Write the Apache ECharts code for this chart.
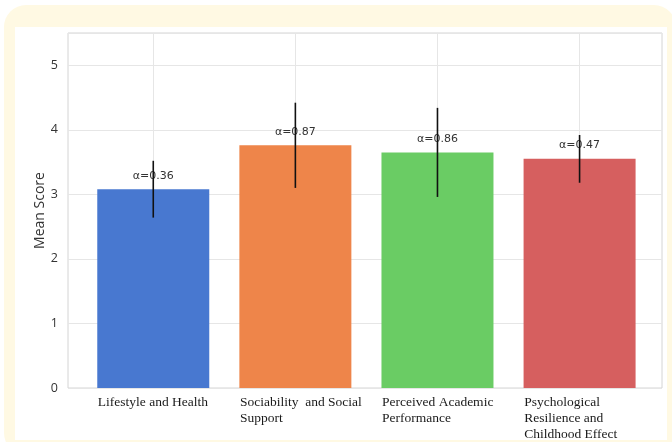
<!DOCTYPE html>
<html>
<head>
<meta charset="utf-8">
<script src="https://cdn.jsdelivr.net/npm/echarts@6/dist/echarts.min.js"></script>
<style>
  html, body { margin: 0; padding: 0; background: #ffffff; }
  #chart { width: 672px; height: 442px; }
</style>
</head>
<body>
<div id="chart"></div>
<script>
// Domains of the questionnaire
const categories = [
  'Lifestyle and Health',
  'Sociability  and Social\nSupport',
  'Perceived Academic\nPerformance',
  'Psychological\nResilience and\nChildhood Effect'
];
// Mean score per domain
const meanScores = [3.08, 3.76, 3.65, 3.55];
// Standard deviation per domain (error bars)
const stdDevs = [0.44, 0.66, 0.69, 0.37];
// Cronbach's alpha per domain
const alphas = ['0.36', '0.87', '0.86', '0.47'];
// Y axis ticks
const yTicks = [0, 1, 2, 3, 4, 5];

const colors = ['#4878d0', '#ee854a', '#6acc64', '#d65f5f'];
const halfBar = 0.39;

const chart = echarts.init(document.getElementById('chart'), null, { renderer: 'canvas' });

const barData = meanScores.map((v, i) => ({
  value: [i, v],
  itemStyle: { color: colors[i] }
}));

const errData = meanScores.map((v, i) => [i, v - stdDevs[i], v + stdDevs[i]]);

chart.setOption({
  backgroundColor: '#ffffff',
  animation: false,
  graphic: [
    {
      type: 'rect', z: -10, silent: true,
      shape: { x: 4, y: 5, width: 672, height: 450, r: 22 },
      style: { fill: '#fff9e3' }
    },
    {
      type: 'rect', z: -9, silent: true,
      shape: { x: 15, y: 27, width: 652, height: 413, r: 0 },
      style: { fill: '#ffffff' }
    }
  ],
  grid: {
    left: 68, top: 33, right: 10, bottom: 54,
    show: true, borderColor: '#d4d4d4', borderWidth: 1,
    backgroundColor: 'transparent'
  },
  xAxis: {
    type: 'value',
    min: -0.6,
    max: 3.58,
    splitLine: { show: false },
    axisLine: { show: false },
    axisTick: { show: false },
    axisLabel: {
      customValues: categories.map((c, i) => i - halfBar),
      formatter: (val) => categories[Math.round(val + halfBar)] || '',
      align: 'left',
      verticalAlign: 'top',
      margin: 6,
      fontFamily: 'Liberation Serif',
      fontSize: 13.5,
      lineHeight: 16,
      color: '#1a1a1a'
    }
  },
  yAxis: {
    type: 'value',
    min: yTicks[0],
    max: 5.5,
    interval: 1,
    name: 'Mean Score',
    nameLocation: 'middle',
    nameGap: 21,
    nameMoveOverlap: false,
    nameRotate: 90,
    nameTextStyle: { fontFamily: 'Open Sans', fontSize: 14, color: '#333333' },
    axisLine: { show: false },
    axisTick: { show: false },
    axisLabel: {
      showMaxLabel: false,
      margin: 10,
      fontFamily: 'Open Sans',
      fontSize: 12.5,
      color: '#333333'
    },
    splitLine: { show: true, lineStyle: { color: '#e6e6e6', width: 1 } }
  },
  series: [
    {
      // vertical grid lines at category centres
      type: 'line',
      data: [],
      z: 1,
      silent: true,
      markLine: {
        z: 1,
        silent: true,
        symbol: ['none', 'none'],
        label: { show: false },
        lineStyle: { color: '#e6e6e6', width: 1, type: 'solid' },
        data: categories.map((c, i) => ({ xAxis: i }))
      }
    },
    {
      type: 'bar',
      z: 2,
      barWidth: 112,
      data: barData,
      label: {
        show: true,
        position: 'top',
        distance: 8,
        fontFamily: 'DejaVu Sans',
        fontSize: 11,
        color: '#333333',
        formatter: (p) => 'α=' + alphas[p.dataIndex]
      }
    },
    {
      type: 'custom',
      z: 5,
      data: errData,
      encode: { x: 0, y: [1, 2] },
      renderItem: (params, api) => {
        const lo = api.coord([api.value(0), api.value(1)]);
        const hi = api.coord([api.value(0), api.value(2)]);
        return {
          type: 'line',
          shape: { x1: lo[0], y1: lo[1], x2: hi[0], y2: hi[1] },
          style: { stroke: '#111111', lineWidth: 1.6 }
        };
      }
    }
  ]
});
</script>
</body>
</html>
